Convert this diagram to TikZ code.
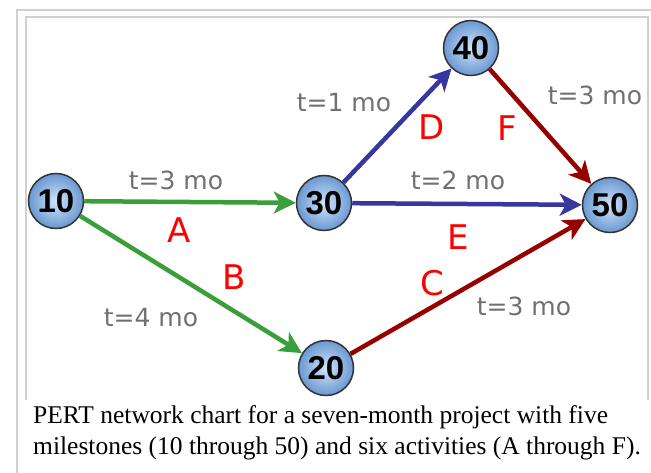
\documentclass[tikz,border=0pt]{standalone}
\usepackage{fontspec}
\setmainfont{Liberation Serif}
\newfontfamily\numfont{Liberation Sans}
\newfontfamily\tagfont{DejaVu Sans}
\usetikzlibrary{arrows.meta}
\definecolor{actgreen}{RGB}{58,158,58}
\definecolor{actblue}{RGB}{55,55,160}
\definecolor{actred}{RGB}{150,0,0}
\definecolor{durgray}{RGB}{112,112,112}
\definecolor{framegray}{RGB}{208,208,208}
\definecolor{ballin}{RGB}{210,228,248}
\definecolor{ballout}{RGB}{105,152,210}
\begin{document}
\begin{tikzpicture}[x=1pt,y=-1pt,
  milestone/.style={circle,draw=black!80,line width=1.5pt,minimum size=55pt,inner sep=0pt,
    inner color=ballin,outer color=ballout,font=\numfont\bfseries\fontsize{33}{33}\selectfont},
  dur/.style={text=durgray,font=\tagfont\fontsize{25}{25}\selectfont},
  act/.style={text=red,font=\tagfont\fontsize{34}{34}\selectfont},
  link/.style={line width=4.5pt,-{Stealth[length=22pt,width=22pt,inset=6pt]}}]
\useasboundingbox (0,0) rectangle (651,473);
% frames
\draw[framegray,line width=1.2pt] (651,10)--(17,10)--(17,473);
\draw[framegray,line width=1.2pt] (26,400)--(26,17)--(648,17)--(648,400);
% milestones
\node[milestone] (m10) at (56,201) {10};
\node[milestone] (m30) at (324,203) {30};
\node[milestone] (m40) at (471,48) {40};
\node[milestone] (m50) at (610,205) {50};
\node[milestone] (m20) at (326,368) {20};
% activities
\draw[link,actgreen] (m10)--(m30);
\draw[link,actgreen] (m10)--(m20);
\draw[link,actred] (m20)--(m50);
\draw[link,actblue] (m30)--(m40);
\draw[link,actblue] (m30)--(m50);
\draw[link,actred] (m40)--(m50);
% durations
\node[dur] (dA) at (176,180) {t=3 mo};
\node[dur] (dB) at (151,318) {t=4 mo};
\node[dur] (dC) at (524,306) {t=3 mo};
\node[dur] (dD) at (344,103) {t=1 mo};
\node[dur] (dE) at (458,180) {t=2 mo};
\node[dur] (dF) at (595,95) {t=3 mo};
% activity letters
\node[act] (lA) at (179,230) {A};
\node[act] (lB) at (234,277) {B};
\node[act] (lC) at (432,283) {C};
\node[act] (lD) at (432,127) {D};
\node[act] (lE) at (458,237) {E};
\node[act] (lF) at (507,128) {F};
% caption
\node[anchor=north west,inner sep=0pt,align=left,font=\fontsize{25.5}{31}\selectfont] (cap) at (33,405)
  {PERT network chart for a seven-month project with five\\
   milestones (10 through 50) and six activities (A through F).};
\end{tikzpicture}
\end{document}
